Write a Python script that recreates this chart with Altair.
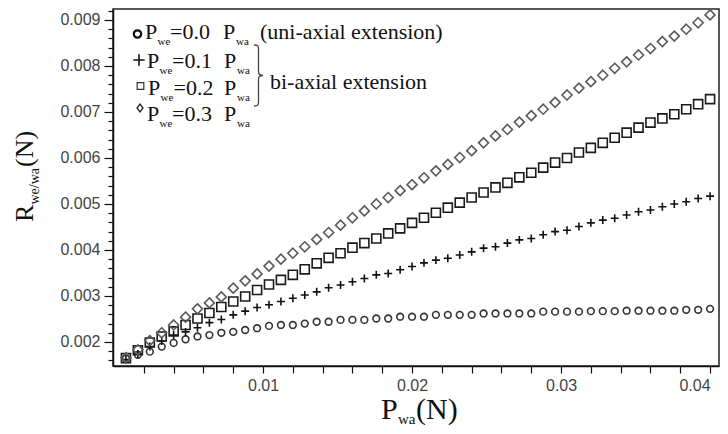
import altair as alt
import pandas as pd

# ---------------- data ----------------
p_wa = [0.0008, 0.0016, 0.0024, 0.0032, 0.0040, 0.0048, 0.0056, 0.0064, 0.0072, 0.0080,
        0.0088, 0.0096, 0.0104, 0.0112, 0.0120, 0.0128, 0.0136, 0.0144, 0.0152, 0.0160,
        0.0168, 0.0176, 0.0184, 0.0192, 0.0200, 0.0208, 0.0216, 0.0224, 0.0232, 0.0240,
        0.0248, 0.0256, 0.0264, 0.0272, 0.0280, 0.0288, 0.0296, 0.0304, 0.0312, 0.0320,
        0.0328, 0.0336, 0.0344, 0.0352, 0.0360, 0.0368, 0.0376, 0.0384, 0.0392, 0.0400]

r_00 = [0.00164, 0.00172, 0.00179, 0.00190, 0.00198, 0.00206, 0.00212, 0.00215, 0.00220, 0.00222,
        0.00226, 0.00230, 0.00235, 0.00237, 0.00237, 0.00240, 0.00244, 0.00244, 0.00248, 0.00248,
        0.00248, 0.00251, 0.00251, 0.00255, 0.00255, 0.00255, 0.00259, 0.00259, 0.00259, 0.00259,
        0.00262, 0.00262, 0.00262, 0.00262, 0.00262, 0.00266, 0.00266, 0.00266, 0.00266, 0.00267,
        0.00267, 0.00267, 0.00268, 0.00268, 0.00268, 0.00268, 0.00268, 0.00270, 0.00270, 0.00272]

r_01 = [0.00162, 0.00174, 0.00190, 0.00202, 0.00215, 0.00222, 0.00231, 0.00242, 0.00249, 0.00259,
        0.00267, 0.00275, 0.00281, 0.00288, 0.00295, 0.00302, 0.00309, 0.00318, 0.00324, 0.00331,
        0.00338, 0.00346, 0.00349, 0.00357, 0.00364, 0.00372, 0.00378, 0.00382, 0.00389, 0.00396,
        0.00404, 0.00407, 0.00415, 0.00422, 0.00425, 0.00433, 0.00440, 0.00443, 0.00451, 0.00459,
        0.00465, 0.00469, 0.00476, 0.00483, 0.00487, 0.00494, 0.00500, 0.00505, 0.00512, 0.00517]

r_02 = [0.00165, 0.00182, 0.00199, 0.00212, 0.00223, 0.00237, 0.00251, 0.00263, 0.00276, 0.00288,
        0.00299, 0.00313, 0.00325, 0.00335, 0.00346, 0.00358, 0.00371, 0.00383, 0.00393, 0.00405,
        0.00415, 0.00425, 0.00436, 0.00447, 0.00459, 0.00470, 0.00481, 0.00492, 0.00503, 0.00514,
        0.00525, 0.00536, 0.00546, 0.00558, 0.00568, 0.00579, 0.00590, 0.00600, 0.00612, 0.00622,
        0.00633, 0.00644, 0.00655, 0.00666, 0.00677, 0.00686, 0.00695, 0.00706, 0.00717, 0.00728]

r_03 = [0.00166, 0.00183, 0.00203, 0.00220, 0.00237, 0.00254, 0.00272, 0.00285, 0.00298, 0.00317,
        0.00333, 0.00348, 0.00365, 0.00380, 0.00393, 0.00407, 0.00423, 0.00438, 0.00454, 0.00470,
        0.00485, 0.00500, 0.00514, 0.00529, 0.00542, 0.00557, 0.00572, 0.00586, 0.00601, 0.00616,
        0.00633, 0.00648, 0.00662, 0.00678, 0.00692, 0.00706, 0.00721, 0.00737, 0.00752, 0.00766,
        0.00780, 0.00795, 0.00809, 0.00824, 0.00838, 0.00853, 0.00865, 0.00880, 0.00894, 0.00911]

series_names = ["0.0", "0.1", "0.2", "0.3"]
series_values = [r_00, r_01, r_02, r_03]

x_ticks = [round(0.002 * i, 4) for i in range(1, 21)]
y_ticks = [round(0.0002 * i, 5) for i in range(8, 47)]

# ---------------- styles ----------------
SERIF = "Liberation Serif"
SANS = "Liberation Sans"
PLUS = "M -1 0 L 1 0 M 0 -1 L 0 1"
DIAMOND = "M 0 -1 L 1 0 L 0 1 L -1 0 Z"
BRACE = ("M -0.15 -1 C 0 -1 0 -0.95 0 -0.85 L 0 -0.12 C 0 -0.03 0.05 0 0.15 0 "
         "C 0.05 0 0 0.03 0 0.12 L 0 0.85 C 0 0.95 0 1 -0.15 1")

rows = []
for name, vals in zip(series_names, series_values):
    for xv, yv in zip(p_wa, vals):
        rows.append({"P_wa": xv, "R": yv, "series": name})
df = pd.DataFrame(rows)

points = alt.Chart(df).mark_point(filled=False, strokeWidth=1.6, opacity=1).encode(
    x=alt.X("P_wa:Q",
            scale=alt.Scale(domain=[-0.00007, 0.0406], nice=False, zero=False),
            axis=alt.Axis(title="", values=x_ticks, tickSize=7,
                          labelAlign={"condition": {"test": "datum.value > 0.039", "value": "right"}, "value": "center"},
                          labelExpr="abs(datum.value*100 - round(datum.value*100)) < 0.001 ? format(datum.value, '.2f') : ''")),
    y=alt.Y("R:Q",
            scale=alt.Scale(domain=[0.001478, 0.009239], nice=False, zero=False),
            axis=alt.Axis(title="", values=y_ticks,
                          tickSize={"condition": {"test": "abs(datum.value*1000 - round(datum.value*1000)) < 0.01", "value": 9}, "value": 5},
                          labelExpr="abs(datum.value*1000 - round(datum.value*1000)) < 0.01 ? format(datum.value, '.3f') : ''")),
    shape=alt.Shape("series:N", scale=alt.Scale(domain=series_names, range=["circle", PLUS, "square", DIAMOND]), legend=None),
    color=alt.Color("series:N", scale=alt.Scale(domain=series_names, range=["#333333", "#111111", "#1a1a1a", "#5a5a5a"]), legend=None),
    size=alt.Size("series:N", scale=alt.Scale(domain=series_names, range=[45, 100, 56, 40]), legend=None),
)

one = pd.DataFrame({"a": [0]})


def txt(s, px, py, size, angle=0, color="#111111", font=SERIF):
    return alt.Chart(one).mark_text(text=s, align="left", baseline="alphabetic", font=font,
                                    fontSize=size, angle=angle, color=color).encode(
        x=alt.value(px), y=alt.value(py))


def sym(shape, px, py, size, sw, color="#111111"):
    return alt.Chart(one).mark_point(shape=shape, size=size, strokeWidth=sw, color=color,
                                     filled=False, opacity=1).encode(x=alt.value(px), y=alt.value(py))


LF = 22   # legend font
SF = 11   # subscript font
ann = []
# legend rows: baseline, P, we, "=x.x", P, wa
legend_rows = [
    (30, 32, 44.5, 57, 110, 123, "=0.0"),
    (59, 34, 46.5, 59, 111, 124, "=0.1"),
    (86, 35, 47.5, 60.5, 111, 124, "=0.2"),
    (112, 34, 46.5, 59, 111, 124, "=0.3"),
]
for base, xp, xwe, xeq, xp2, xwa, eq in legend_rows:
    ann += [txt("P", xp, base, LF), txt("we", xwe, base + 6, SF), txt(eq, xeq, base, LF),
            txt("P", xp2, base, LF), txt("wa", xwa, base + 6, SF)]
ann.append(txt("(uni-axial extension)", 147, 30, LF))
ann.append(txt("bi-axial extension", 157, 80, LF))
ann += [sym("circle", 24.5, 25, 55, 2.2, "#111111"),
        sym(PLUS, 26, 51, 130, 1.6),
        sym("square", 27.5, 77, 44, 1.2, "#333333"),
        sym("M 0 -1 L 0.75 0 L 0 1 L -0.75 0 Z", 27, 99, 64, 1.3, "#222222"),
        sym(BRACE, 145.5, 66.5, 3721, 1.3, "#444444")]

# x axis title  P_wa(N)
ann += [txt("P", 268, 410, 30), txt("wa", 285, 415, 15), txt("(N)", 303, 410, 30)]
# y axis title  R_we/wa(N)  (rotated)
ann += [txt("R", -80, 213, 26, angle=270), txt("we/wa", -74, 195.5, 14, angle=270),
        txt("(N)", -80, 158, 26, angle=270)]

chart = alt.layer(points, *ann).properties(
    width=606, height=357,
    padding={"left": 105, "top": 1, "right": 1, "bottom": 60},
    autosize=alt.AutoSizeParams(type="none"),
).configure_view(stroke="#222222", strokeWidth=1.5).configure_axis(
    grid=False, domainColor="#111111", domainWidth=1.5, tickColor="#111111", tickWidth=1.2,
    labelFont=SANS, labelFontSize=16, labelColor="#444444", labelPadding=4,
)

chart.save("out.html", embed_options={"renderer": "svg", "actions": False})
